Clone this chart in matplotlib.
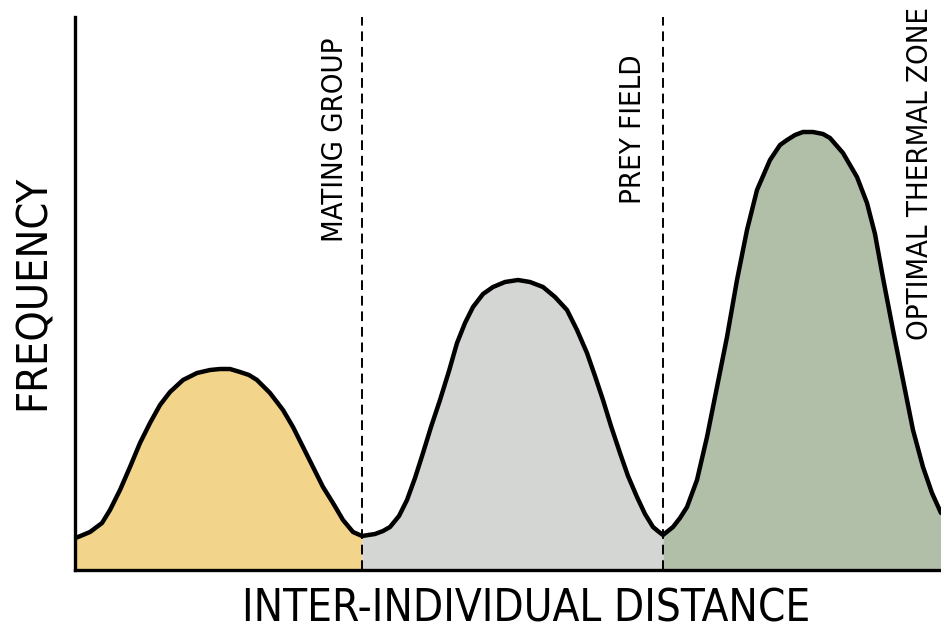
import matplotlib
matplotlib.use("Agg")
import matplotlib.pyplot as plt
import numpy as np

# ---- data ----
curve_x = [0, 3, 15, 27, 35, 45, 55, 65, 75, 85, 95, 108, 122, 135, 145, 155, 165, 174,
           182, 195, 208, 218, 228, 238, 248, 258, 268, 278, 287,
           300, 308, 315, 324, 332, 340, 348, 356, 365, 374, 382, 390, 398, 408, 418, 430,
           443, 455, 468, 480, 492, 502, 512, 520, 528, 536, 545, 553, 562, 570, 578, 584, 588,
           598, 605, 612, 622, 632, 642, 652, 662, 672, 682, 695, 705, 712, 720, 728, 738,
           748, 755, 768, 782, 792, 800, 808, 818, 828, 838, 848, 857, 866]
curve_y = [32, 33, 38, 47, 60, 80, 103, 127, 147, 165, 178, 190, 197, 200, 201, 201, 198, 195,
           190, 177, 160, 143, 123, 103, 83, 67, 50, 38, 34,
           36, 39, 43, 54, 70, 92, 117, 143, 170, 199, 227, 247, 263, 276, 283, 288,
           290, 288, 283, 273, 260, 240, 217, 194, 170, 144, 117, 94, 73, 56, 43, 38, 35,
           43, 52, 63, 90, 133, 183, 233, 290, 340, 380, 410, 425, 430, 435, 438, 438,
           436, 432, 417, 393, 367, 336, 292, 240, 190, 140, 103, 77, 57]
boundaries = [287, 588]
zone_labels = ["MATING GROUP", "PREY FIELD", "OPTIMAL THERMAL ZONE"]
zone_colors = ["#F2D58A", "#D4D6D3", "#B1BFA8"]
xlabel = "INTER-INDIVIDUAL DISTANCE"
ylabel = "FREQUENCY"

W, H = 941, 633
fig = plt.figure(figsize=(W / 100, H / 100), dpi=100)
ax = fig.add_axes([75 / W, (H - 570) / H, (W - 75) / W, (570 - 17) / H])
ax.set_xlim(0, 866)
ax.set_ylim(0, 553)

x = np.array(curve_x, dtype=float)
y = np.array(curve_y, dtype=float)
edges = [x.min()] + boundaries + [x.max()]
for i, col in enumerate(zone_colors):
    m = (x >= edges[i]) & (x <= edges[i + 1])
    ax.fill_between(x, 0, y, where=m, color=col, linewidth=0, zorder=1)

ax.plot(x, y, color="black", lw=3.2, solid_capstyle="round", solid_joinstyle="round", zorder=3)

for b in boundaries:
    ax.axvline(b, color="black", lw=1.4, dashes=(5, 3), zorder=4)

for s in ["top", "right"]:
    ax.spines[s].set_visible(False)
for s in ["left", "bottom"]:
    ax.spines[s].set_linewidth(2.4)
    ax.spines[s].set_color("black")
    ax.spines[s].set_zorder(5)
ax.set_xticks([])
ax.set_yticks([])

fam = ["Liberation Sans Narrow", "DejaVu Sans"]
kw = dict(family=fam, fontstretch="condensed", color="black", ha="center", va="center")

fig.text(526 / W, 1 - 609 / H, xlabel, fontsize=31.5, **kw)
fig.text(33 / W, 1 - 292 / H, ylabel, fontsize=31, rotation=90, **kw)

label_pos = [(335, 140), (633, 129), (920, 173)]
for (px, py), lab in zip(label_pos, zone_labels):
    fig.text(px / W, 1 - py / H, lab, fontsize=21, rotation=90, **kw)

fig.savefig("out.png", dpi=100)
